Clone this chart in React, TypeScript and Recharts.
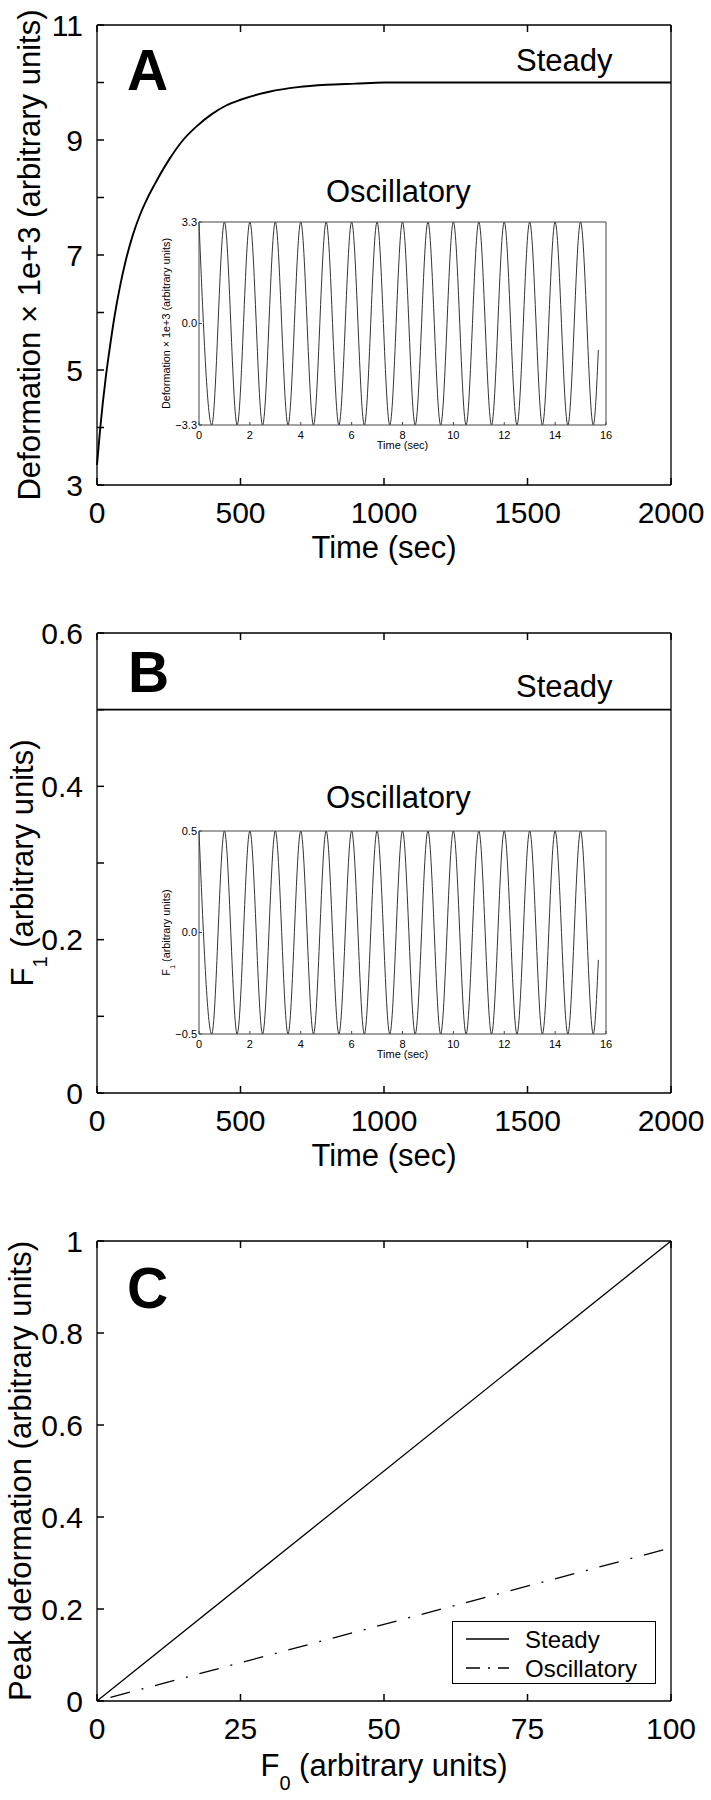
import React from 'react';
import { LineChart, Line, XAxis, YAxis, Label, Legend } from 'recharts';

const FONT = '"Liberation Sans", Arial, Helvetica, sans-serif';

// Panel A: deformation under a steady load
const aTime = [0, 10, 20, 30, 45, 60, 80, 100, 125, 150, 175, 200, 250, 300, 350, 400, 450, 500, 600, 700, 800, 900, 1000, 1500, 2000];
const aDeform = [3.35, 3.92, 4.42, 4.85, 5.4, 5.9, 6.45, 6.9, 7.35, 7.7, 7.98, 8.22, 8.65, 9.0, 9.25, 9.45, 9.6, 9.7, 9.84, 9.92, 9.96, 9.98, 10, 10, 10];
const aXTicks = [0, 500, 1000, 1500, 2000];
const aXTickLabels = ['0', '500', '1000', '1500', '2000'];
const aYTicks = [3, 4, 5, 6, 7, 8, 9, 10, 11];
const aYTickLabels = ['3', '', '5', '', '7', '', '9', '', '11'];

// Insets: oscillatory load, peaks and troughs
const oscTime = [0, 0.5, 1, 1.5, 2, 2.5, 3, 3.5, 4, 4.5, 5, 5.5, 6, 6.5, 7, 7.5, 8, 8.5, 9, 9.5, 10, 10.5, 11, 11.5, 12, 12.5, 13, 13.5, 14, 14.5, 15, 15.5, 15.7];
const oscDeform = [3.3, -3.3, 3.3, -3.3, 3.3, -3.3, 3.3, -3.3, 3.3, -3.3, 3.3, -3.3, 3.3, -3.3, 3.3, -3.3, 3.3, -3.3, 3.3, -3.3, 3.3, -3.3, 3.3, -3.3, 3.3, -3.3, 3.3, -3.3, 3.3, -3.3, 3.3, -3.3, -0.86];
const oscF1 = [0.5, -0.5, 0.5, -0.5, 0.5, -0.5, 0.5, -0.5, 0.5, -0.5, 0.5, -0.5, 0.5, -0.5, 0.5, -0.5, 0.5, -0.5, 0.5, -0.5, 0.5, -0.5, 0.5, -0.5, 0.5, -0.5, 0.5, -0.5, 0.5, -0.5, 0.5, -0.5, -0.135];
const oscXTicks = [0, 2, 4, 6, 8, 10, 12, 14, 16];
const oscXTickLabels = ['0', '2', '4', '6', '8', '10', '12', '14', '16'];
const oscDeformTicks = [-3.3, 0, 3.3];
const oscDeformTickLabels = ['\u22123.3', '0.0', '3.3'];
const oscF1Ticks = [-0.5, 0, 0.5];
const oscF1TickLabels = ['\u22120.5', '0.0', '0.5'];

// Panel B: applied force F1
const bTime = [0, 2000];
const bF1 = [0.5, 0.5];
const bYTicks = [0, 0.1, 0.2, 0.3, 0.4, 0.5, 0.6];
const bYTickLabels = ['0', '', '0.2', '', '0.4', '', '0.6'];

// Panel C: peak deformation vs F0
const cF0 = [0, 100];
const cSteady = [0, 1];
const cOscillatory = [0, 0.333];
const cXTicks = [0, 25, 50, 75, 100];
const cXTickLabels = ['0', '25', '50', '75', '100'];
const cYTicks = [0, 0.2, 0.4, 0.6, 0.8, 1];
const cYTickLabels = ['0', '0.2', '0.4', '0.6', '0.8', '1'];
const legendOrder = ['Steady', 'Oscillatory'];

const DASH_DOT = '2 12 20 12';

type Side = 'left' | 'right' | 'top' | 'bottom';

// inward tick mark (and optional label) for one side of the box
const makeTick = (side: Side, len: number, margin: number, color: string, width: number,
  labels?: string[], fontSize = 30) => (props: any) => {
  const { x, y, index } = props;
  const ln = { stroke: color, strokeWidth: width };
  let mark: React.ReactNode = null;
  if (side === 'left') mark = <line x1={x + margin} x2={x + margin + len} y1={y} y2={y} {...ln} />;
  if (side === 'right') mark = <line x1={x - margin} x2={x - margin - len} y1={y} y2={y} {...ln} />;
  if (side === 'bottom') mark = <line x1={x} x2={x} y1={y - margin} y2={y - margin - len} {...ln} />;
  if (side === 'top') mark = <line x1={x} x2={x} y1={y + margin} y2={y + margin + len} {...ln} />;
  const text = labels ? labels[index] : '';
  return (
    <g>
      {mark}
      {text ? (
        <text x={x} y={y} dy={side === 'bottom' ? '0.71em' : '0.36em'}
          textAnchor={side === 'left' ? 'end' : 'middle'} fontSize={fontSize} fontFamily={FONT} fill="#000">
          {text}
        </text>
      ) : null}
    </g>
  );
};

const AXIS = { stroke: '#000', strokeWidth: 1.3 };
const INSET_AXIS = { stroke: '#444', strokeWidth: 1 };

const xTitle = (dy: number, body: React.ReactNode) => (props: any) => {
  const vb = props.viewBox;
  return (
    <text x={vb.x + vb.width / 2} y={vb.y + dy} textAnchor="middle" fontSize={31} fontFamily={FONT} fill="#000">
      {body}
    </text>
  );
};

const yTitle = (dx: number, body: React.ReactNode, size = 31) => (props: any) => {
  const vb = props.viewBox;
  const cx = vb.x + dx;
  const cy = vb.y + vb.height / 2;
  return (
    <text x={cx} y={cy} transform={`rotate(-90 ${cx} ${cy})`} textAnchor="middle" fontSize={size} fontFamily={FONT} fill="#000">
      {body}
    </text>
  );
};

function MainPanel({ top, height, data, xDomain, xTicks, xTickLabels, yDomain, yTicks, yTickLabels, xLabel, yLabel, children }: any) {
  return (
    <div style={{ position: 'absolute', left: 0, top }}>
      <LineChart width={711} height={height} data={data} margin={{ top: 24, right: 39, bottom: height - 485 - 30, left: 0 }}>
        <XAxis dataKey="x" type="number" domain={xDomain} ticks={xTicks} interval={0} height={30}
          tickSize={0} tickMargin={17} tickLine={false} axisLine={AXIS}
          tick={makeTick('bottom', 7, 17, '#000', 1.5, xTickLabels)}>
          <Label content={xLabel} />
        </XAxis>
        <XAxis xAxisId="top" orientation="top" dataKey="x" type="number" domain={xDomain} ticks={xTicks} interval={0}
          height={1} tickSize={0} tickMargin={0} tickLine={false} axisLine={AXIS}
          tick={makeTick('top', 7, 0, '#000', 1.5)} />
        <YAxis type="number" domain={yDomain} ticks={yTicks} interval={0} width={97}
          tickSize={0} tickMargin={14} tickLine={false} axisLine={AXIS}
          tick={makeTick('left', 7, 14, '#000', 1.5, yTickLabels)}>
          <Label content={yLabel} />
        </YAxis>
        <YAxis yAxisId="right" orientation="right" type="number" domain={yDomain} ticks={yTicks} interval={0}
          width={1} tickSize={0} tickMargin={0} tickLine={false} axisLine={AXIS}
          tick={makeTick('right', 7, 0, '#000', 1.5)} />
        {children}
      </LineChart>
    </div>
  );
}

function Inset({ top, values, yDomain, yTicks, yTickLabels, yLabel }: any) {
  const data = oscTime.map((x, i) => ({ x, y: values[i] }));
  return (
    <div style={{ position: 'absolute', left: 121, top }}>
      <LineChart width={495} height={265} data={data} margin={{ top: 21, right: 9, bottom: 10, left: 0 }}>
        <XAxis dataKey="x" type="number" domain={[0, 16]} ticks={oscXTicks} interval={0} height={30}
          tickSize={0} tickMargin={6} tickLine={false} axisLine={INSET_AXIS}
          tick={makeTick('bottom', 3, 6, '#444', 1, oscXTickLabels, 11)}>
          <Label content={(p: any) => (
            <text x={p.viewBox.x + p.viewBox.width / 2} y={p.viewBox.y + 23.5} textAnchor="middle" fontSize={11} fontFamily={FONT}>
              Time (sec)
            </text>
          )} />
        </XAxis>
        <XAxis xAxisId="top" orientation="top" dataKey="x" type="number" domain={[0, 16]} height={1}
          tick={false} tickLine={false} axisLine={INSET_AXIS} />
        <YAxis type="number" domain={yDomain} ticks={yTicks} interval={0} width={78}
          tickSize={0} tickMargin={2} tickLine={false} axisLine={INSET_AXIS}
          tick={makeTick('left', 3, 2, '#444', 1, yTickLabels, 11)}>
          <Label content={yTitle(49, yLabel, 10.8)} />
        </YAxis>
        <YAxis yAxisId="right" orientation="right" type="number" domain={yDomain} ticks={[0]} width={1}
          tickSize={0} tickMargin={0} tickLine={false} axisLine={INSET_AXIS}
          tick={makeTick('right', 3, 0, '#444', 1)} />
        <Line dataKey="y" type="monotone" stroke="#333" strokeWidth={1} dot={false} isAnimationActive={false} />
      </LineChart>
    </div>
  );
}

const renderLegend = (props: any) => {
  const items = [...(props.payload || [])].sort(
    (a: any, b: any) => legendOrder.indexOf(a.value) - legendOrder.indexOf(b.value)
  );
  return (
    <svg width={204} height={63} style={{ display: 'block' }}>
      <rect x={0.5} y={0.5} width={203} height={62} fill="#fff" stroke="#000" strokeWidth={1} />
      {items.map((e: any, i: number) => {
        const cy = 18 + i * 29;
        const dash = e.value === 'Oscillatory' ? '14 8 2 8' : undefined;
        return (
          <g key={e.value}>
            <line x1={14} x2={57} y1={cy} y2={cy} stroke="#000" strokeWidth={1.3} strokeDasharray={dash} />
            <text x={73} y={cy} dy="0.36em" fontSize={24} fontFamily={FONT} fill="#000">{e.value}</text>
          </g>
        );
      })}
    </svg>
  );
};

export default function App() {
  const aData = aTime.map((x, i) => ({ x, y: aDeform[i] }));
  const bData = bTime.map((x, i) => ({ x, y: bF1[i] }));
  const cData = cF0.map((x, i) => ({ x, s: cSteady[i], o: cOscillatory[i] }));

  const sub = (t: string) => (
    <>
      <tspan dy={14} fontSize={20}>{t}</tspan>
      <tspan dy={-14}> (arbitrary units)</tspan>
    </>
  );

  return (
    <div style={{ position: 'absolute', left: 0, top: 0, width: 711, height: 1800, background: '#fff' }}>
      <MainPanel top={0} height={608} data={aData} xDomain={[0, 2000]} xTicks={aXTicks} xTickLabels={aXTickLabels}
        yDomain={[3, 11]} yTicks={aYTicks} yTickLabels={aYTickLabels}
        xLabel={xTitle(73, 'Time (sec)')}
        yLabel={yTitle(40, 'Deformation \u00d7 1e+3 (arbitrary units)')}>
        <Line dataKey="y" type="monotone" stroke="#000" strokeWidth={1.9} dot={false} isAnimationActive={false} />
      </MainPanel>
      <Inset top={200} values={oscDeform} yDomain={[-3.3, 3.3]} yTicks={oscDeformTicks} yTickLabels={oscDeformTickLabels}
        yLabel={'Deformation \u00d7 1e+3 (arbitrary units)'} />

      <MainPanel top={608} height={608} data={bData} xDomain={[0, 2000]} xTicks={aXTicks} xTickLabels={aXTickLabels}
        yDomain={[0, 0.6]} yTicks={bYTicks} yTickLabels={bYTickLabels}
        xLabel={xTitle(73, 'Time (sec)')}
        yLabel={yTitle(33, <>F{sub('1')}</>)}>
        <Line dataKey="y" type="linear" stroke="#000" strokeWidth={1.6} dot={false} isAnimationActive={false} />
      </MainPanel>
      <Inset top={809} values={oscF1} yDomain={[-0.5, 0.5]} yTicks={oscF1Ticks} yTickLabels={oscF1TickLabels}
        yLabel={<>F<tspan dy={5} fontSize={7.5}>1</tspan><tspan dy={-5}> (arbitrary units)</tspan></>} />

      <MainPanel top={1216} height={584} data={cData} xDomain={[0, 100]} xTicks={cXTicks} xTickLabels={cXTickLabels}
        yDomain={[0, 1]} yTicks={cYTicks} yTickLabels={cYTickLabels}
        xLabel={xTitle(75, <>F{sub('0')}</>)}
        yLabel={yTitle(31, 'Peak deformation (arbitrary units)')}>
        <Line dataKey="s" name="Steady" type="linear" stroke="#000" strokeWidth={1.3} dot={false} isAnimationActive={false} />
        <Line dataKey="o" name="Oscillatory" type="linear" stroke="#000" strokeWidth={1.3} strokeDasharray={DASH_DOT}
          dot={false} isAnimationActive={false} />
        <Legend layout="vertical" align="center" verticalAlign="middle" width={204} height={63}
          wrapperStyle={{ left: 452, top: 405, width: 204, height: 63 }} content={renderLegend} />
      </MainPanel>

      <svg width={711} height={1800} style={{ position: 'absolute', left: 0, top: 0, pointerEvents: 'none' }}>
        <g fontFamily={FONT} fill="#000">
          <text x={127} y={90} fontSize={57} fontWeight="bold">A</text>
          <text x={128} y={692} fontSize={57} fontWeight="bold">B</text>
          <text x={127} y={1308} fontSize={57} fontWeight="bold">C</text>
          <text x={516} y={71} fontSize={31}>Steady</text>
          <text x={516} y={697} fontSize={31}>Steady</text>
          <text x={326} y={202} fontSize={31}>Oscillatory</text>
          <text x={326} y={808} fontSize={31}>Oscillatory</text>
        </g>
      </svg>
    </div>
  );
}
